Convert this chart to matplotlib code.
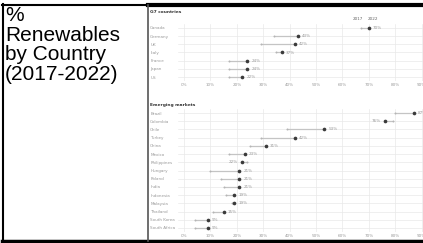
import matplotlib
matplotlib.use("Agg")
import matplotlib.pyplot as plt
from matplotlib.lines import Line2D

W, H = 423, 243

title_text = "%\nRenewables\nby Country\n(2017-2022)"

g7_countries = ["Canada", "Germany", "UK", "Italy", "France", "Japan", "US"]
g7_2017 = [67, 34, 29, 35, 17, 17, 17]
g7_2022 = [70, 43, 42, 37, 24, 24, 22]

em_countries = ["Brazil", "Colombia", "Chile", "Turkey", "China", "Mexico",
                "Philippines", "Hungary", "Poland", "India", "Indonesia",
                "Malaysia", "Thailand", "South Korea", "South Africa"]
em_2017 = [80, 79, 39, 29, 25, 17, 24, 10, 14, 15, 16, 18, 11, 4, 4]
em_2022 = [87, 76, 53, 42, 31, 23, 22, 21, 21, 21, 19, 19, 15, 9, 9]

x_ticks = list(range(0, 100, 10))
x_tick_labels = [f"{t}%" for t in x_ticks]

FS = 3.0
GREY = "#9a9a9a"


def px_rect(left, top, right, bottom):
    # pixel box (top-left origin) -> figure fraction rect
    return [left / W, 1 - bottom / H, (right - left) / W, (bottom - top) / H]


def draw_panel(ax, title, countries, v2017, v2022, legend=False):
    n = len(countries)
    ax.set_xlim(-2.3, 100)
    ax.set_ylim(n - 0.5, -0.5)
    for s in ax.spines.values():
        s.set_visible(False)
    ax.set_xticks(x_ticks)
    ax.set_xticklabels(x_tick_labels)
    ax.set_yticks(range(n))
    ax.set_yticklabels(countries)
    ax.tick_params(axis="x", length=0, labelsize=FS, colors=GREY, pad=1.5)
    ax.tick_params(axis="y", length=0, labelsize=FS, colors=GREY, pad=20)
    for lab in ax.get_yticklabels():
        lab.set_ha("left")
    ax.grid(True, color="#e9e9e9", lw=0.5)
    ax.set_axisbelow(True)

    for i, (a, b) in enumerate(zip(v2017, v2022)):
        ax.plot([a, b], [i, i], color="#c4c4c4", lw=0.9, zorder=2)
        ax.scatter([a], [i], s=2, color="#b5b5b5", zorder=3, linewidths=0)
        ax.scatter([b], [i], s=7, color="#3a3a3a", zorder=4, linewidths=0)
        if b >= a:
            ax.text(b + 1.6, i, f"{b}%", fontsize=FS, color=GREY,
                    va="center", ha="left")
        else:
            ax.text(b - 1.6, i, f"{b}%", fontsize=FS, color=GREY,
                    va="center", ha="right")

    if legend:
        ax.text(v2017[0] + 1, -1.1, "2017", fontsize=FS, color="#666666",
                ha="right", va="center")
        ax.text(v2022[0] - 0.5, -1.1, "2022", fontsize=FS, color="#666666",
                ha="left", va="center")

    ax.annotate(title, xy=(150 / W, 0), xycoords=("figure fraction", "axes fraction"),
                fontsize=3.2, fontweight="bold", color="#333333")


fig = plt.figure(figsize=(W / 100, H / 100), dpi=100)
fig.patch.set_facecolor("white")

ax1 = fig.add_axes(px_rect(178, 23.9, 448, 81.1))
draw_panel(ax1, "G7 countries", g7_countries, g7_2017, g7_2022, legend=True)
ax1.texts[-1].set_position((150 / W, 1 + 11 / 57.2))

ax2 = fig.add_axes(px_rect(178, 108.9, 448, 232.1))
draw_panel(ax2, "Emerging markets", em_countries, em_2017, em_2022)
ax2.texts[-1].set_position((150 / W, 1 + 3 / 123.2))

fig.text(5 / W, 1 - 6 / H, title_text, fontsize=15, family="Liberation Sans",
         color="black", ha="left", va="top", linespacing=1.05)

# table borders
def hline(y, x0, x1, lw):
    fig.add_artist(Line2D([x0 / W, x1 / W], [1 - y / H, 1 - y / H],
                          transform=fig.transFigure, color="black", lw=lw))


def vline(x, y0, y1, lw, color="black"):
    fig.add_artist(Line2D([x / W, x / W], [1 - y0 / H, 1 - y1 / H],
                          transform=fig.transFigure, color=color, lw=lw))


hline(5, 2, 148, 1.5)
hline(5, 148, W, 3.0)
hline(241, 2, W, 2.5)
vline(3, 4, 242, 1.5)
vline(147.5, 5, 241, 1.2, color="#555555")

fig.savefig("out.png", dpi=100, facecolor="white")
